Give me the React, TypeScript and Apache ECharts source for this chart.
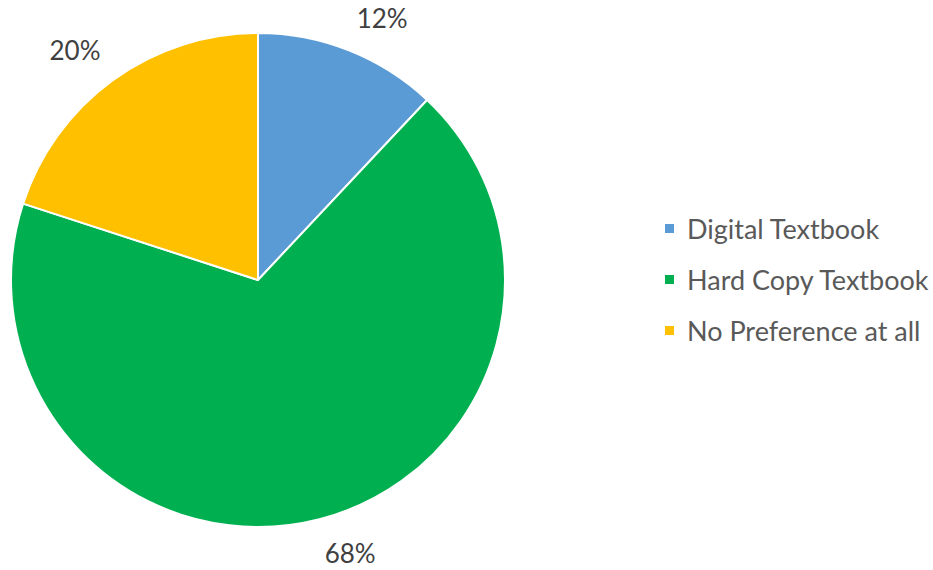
import React, { useEffect, useRef } from "react";
import * as echarts from "echarts";

const categories = ["Digital Textbook", "Hard Copy Textbook", "No Preference at all"];
const values = [12, 68, 20];
const colors = ["#5B9BD5", "#00B050", "#FFC000"];

const CX = 258;
const CY = 280;
const R = 247;
const LABEL_GAP = 21;

export default function App() {
  const ref = useRef<HTMLDivElement>(null);
  useEffect(() => {
    document.body.style.margin = "0";
    const chart = echarts.init(ref.current!, null, { renderer: "svg" });
    const total = values.reduce((a, b) => a + b, 0);
    const mids: number[] = [];
    let acc = 0;
    values.forEach((v) => {
      mids.push(((acc + v / 2) / total) * Math.PI * 2);
      acc += v;
    });
    chart.setOption({
      animation: false,
      backgroundColor: "#ffffff",
      textStyle: { fontFamily: "Lato" },
      legend: {
        orient: "vertical",
        left: 658,
        top: 210,
        icon: "rect",
        itemWidth: 11,
        itemHeight: 11,
        itemGap: 24,
        data: categories,
        textStyle: {
          fontSize: 27,
          lineHeight: 27,
          color: "#595959",
          fontFamily: "Lato",
          padding: [0, 0, 0, 7],
        },
      },
      series: [
        {
          type: "pie",
          center: [CX, CY],
          radius: [0, R],
          startAngle: 90,
          clockwise: true,
          itemStyle: { borderColor: "#ffffff", borderWidth: 2 },
          label: {
            show: true,
            position: "outside",
            formatter: "{c}%",
            fontSize: 26,
            color: "#404040",
            fontFamily: "Lato",
          },
          labelLine: { show: false },
          labelLayout: (params: any) => {
            const a = mids[params.dataIndex];
            const dx = Math.sin(a);
            const dy = -Math.cos(a);
            const hw = params.labelRect.width / 2;
            const hh = params.labelRect.height / 2;
            const d = R + LABEL_GAP;
            return {
              x: CX + d * dx + Math.sign(dx) * hw,
              y: CY + d * dy + Math.sign(dy) * hh,
              align: "center",
              verticalAlign: "middle",
            };
          },
          emphasis: { disabled: true },
          data: categories.map((c, i) => ({
            name: c,
            value: values[i],
            itemStyle: { color: colors[i] },
          })),
        },
      ],
    });
    return () => chart.dispose();
  }, []);
  return <div ref={ref} style={{ width: 933, height: 570 }} />;
}
